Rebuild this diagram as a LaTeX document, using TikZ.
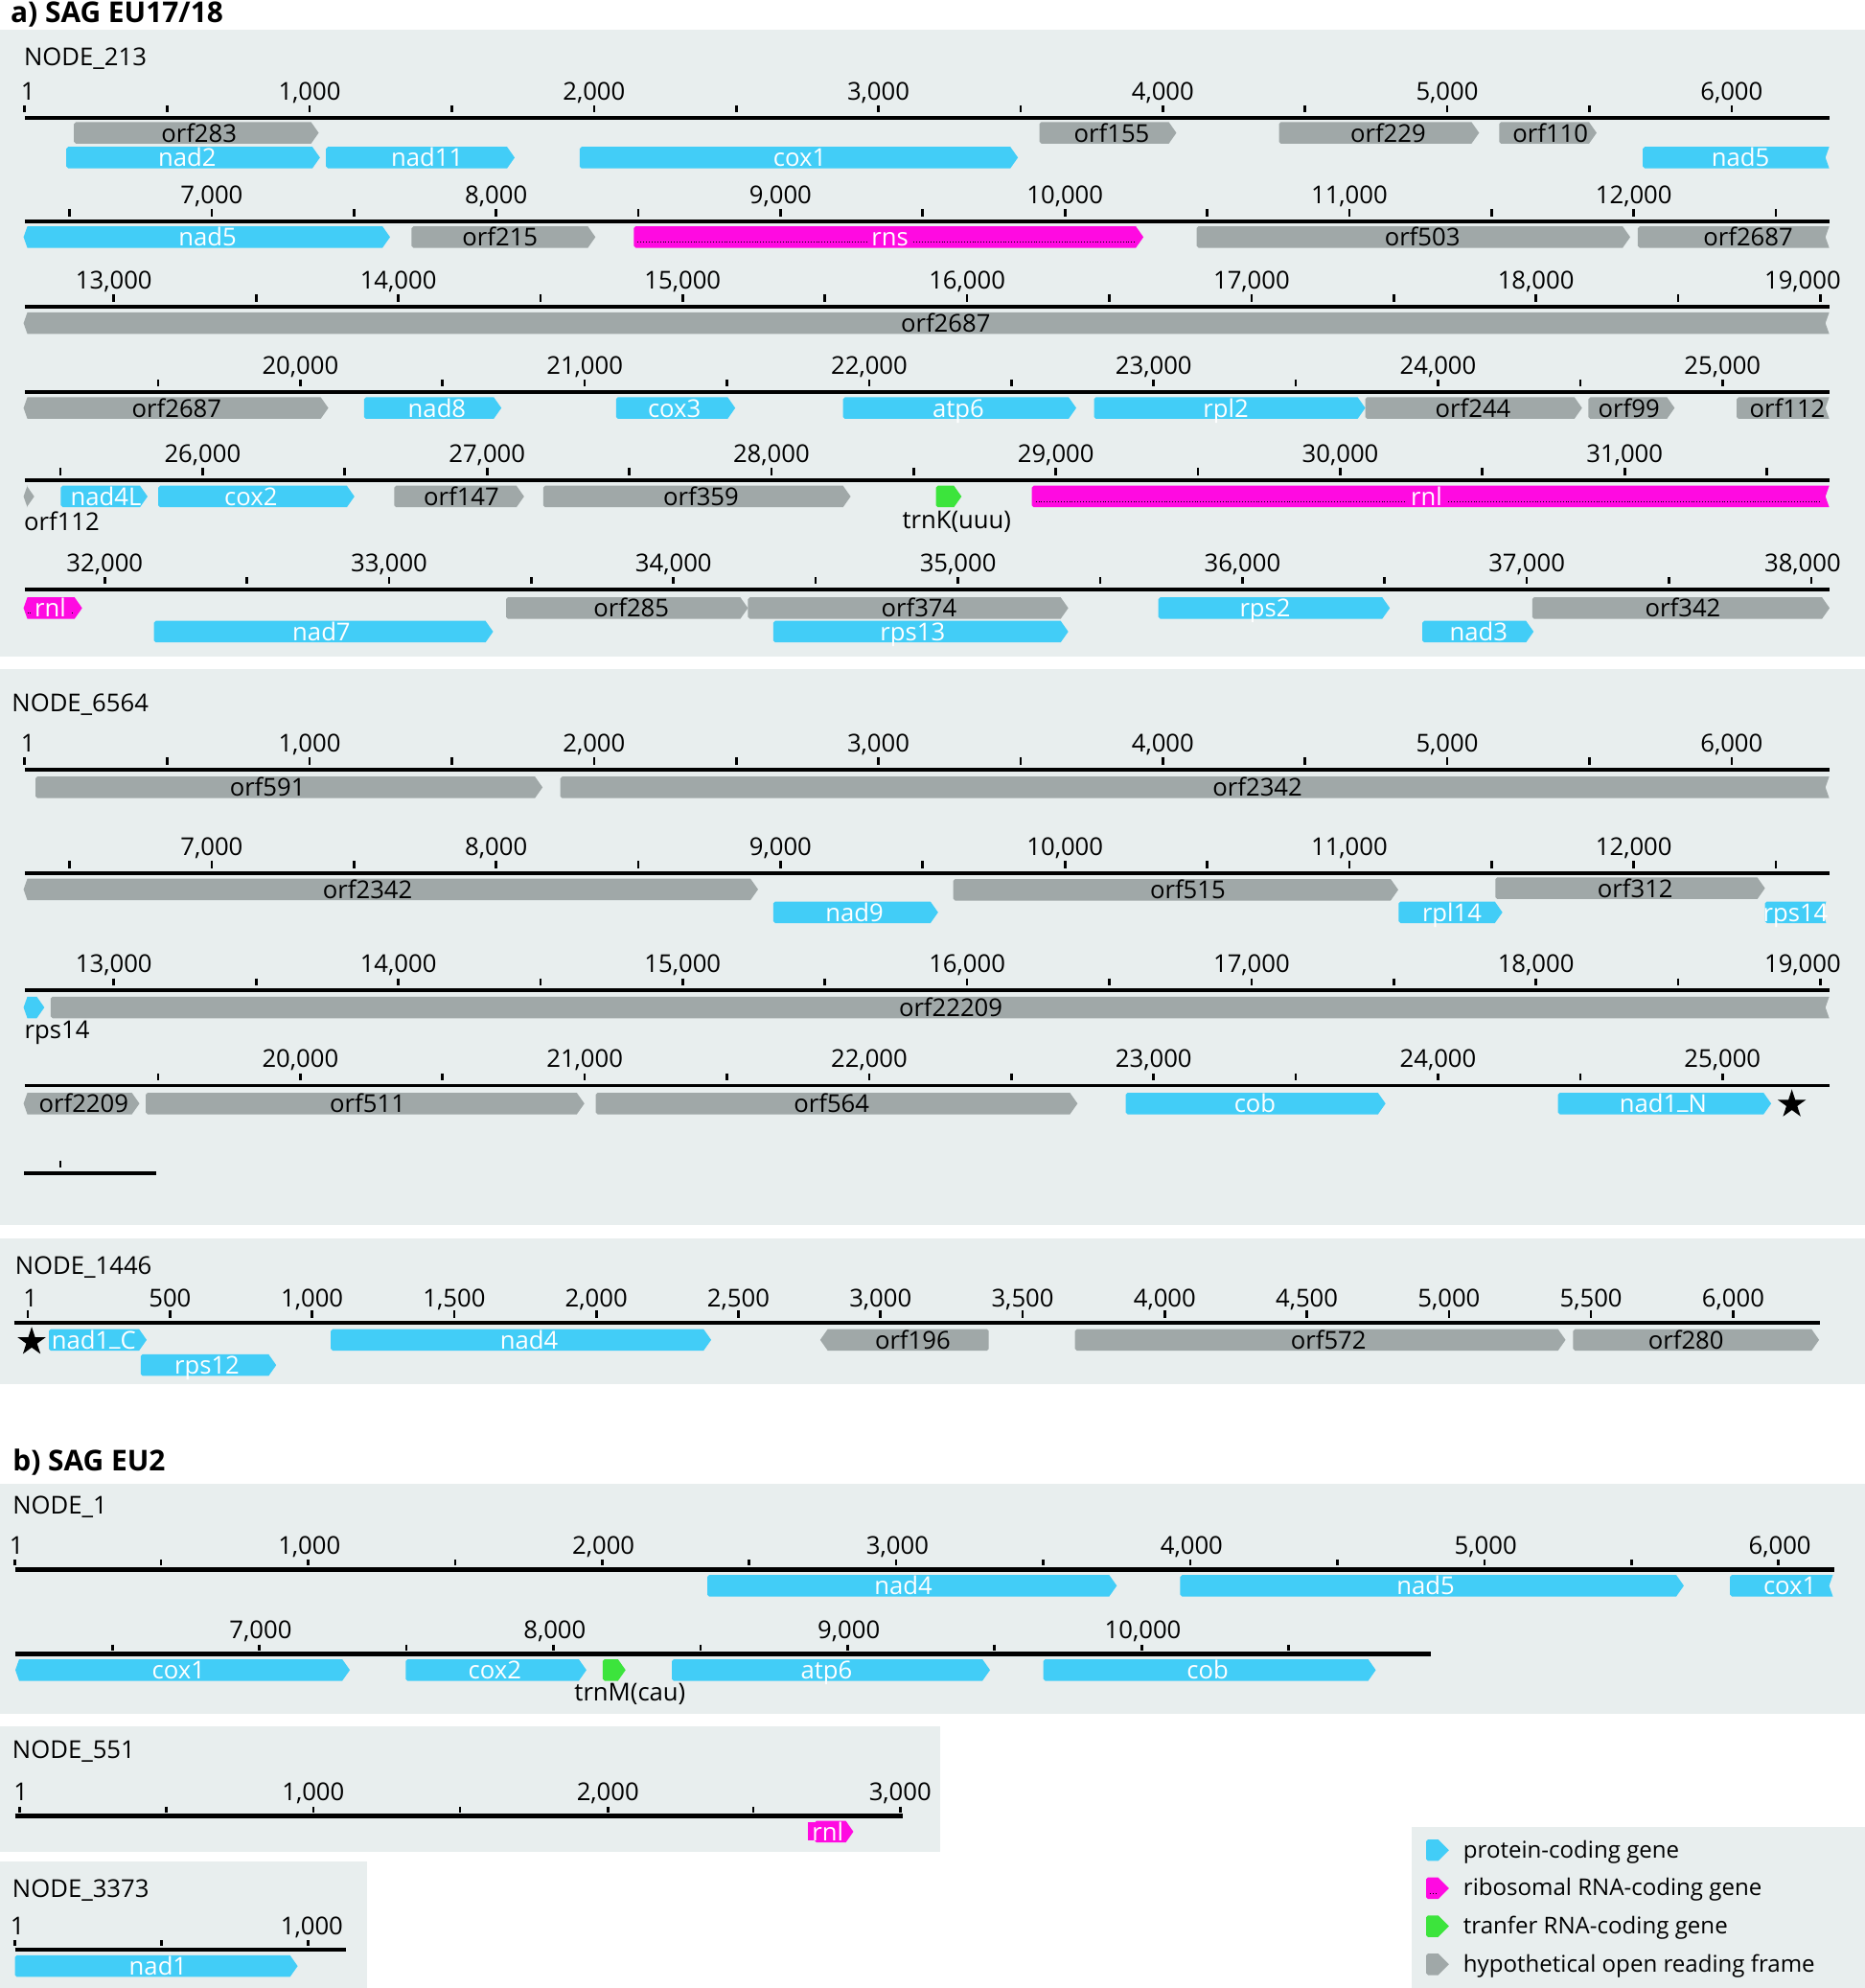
\documentclass[tikz,border=0pt]{standalone}
\usepackage{fontspec}
\setmainfont{Open Sans}
\usetikzlibrary{shapes.geometric}
\definecolor{pccol}{RGB}{66,205,247}
\definecolor{orfcol}{RGB}{160,168,168}
\definecolor{rrcol}{RGB}{255,10,225}
\definecolor{trcol}{RGB}{60,228,60}
\definecolor{panelcol}{RGB}{232,238,238}
\newcommand\genefont{\fontsize{9.7}{11}\selectfont}
\newcommand\legfont{\fontsize{9.1}{11}\selectfont}
\newcommand\ttlfont{\fontsize{11.3}{13}\selectfont\bfseries}
\newcommand\usc{\raisebox{0.17em}{\_}}
\tikzset{
  panel/.style={fill=panelcol},
  pc/.style={fill=pccol}, orf/.style={fill=orfcol}, rr/.style={fill=rrcol}, tr/.style={fill=trcol},
  pclbl/.style={text=white, font=\genefont, anchor=base, inner sep=0pt},
  orflbl/.style={text=black, font=\genefont, anchor=base, inner sep=0pt},
  rrlbl/.style={text=white, font=\genefont, anchor=base, fill=rrcol, inner xsep=1.5pt, inner ysep=0pt},
  trlbl/.style={text=black, font=\genefont, anchor=base, inner sep=0pt},
  blklbl/.style={text=black, font=\genefont, anchor=base, inner sep=0pt},
  axisln/.style={line width=1.5pt, black},
  tickln/.style={line width=1pt, black},
  numlbl/.style={font=\genefont, anchor=base, inner sep=0pt},
  ttl/.style={font=\ttlfont, anchor=base west, inner sep=0pt},
  nodelbl/.style={font=\genefont, anchor=base west, inner sep=0pt},
  leglbl/.style={font=\legfont, anchor=base west, inner sep=0pt},
  starmark/.style={star, star points=5, star point ratio=2.618, fill=black, minimum size=11.8pt, inner sep=0pt},
}
\newcount\gcnt
\def\tipd{6}
\def\rrname{rr}
\newcommand\gene[8]{%
  \global\advance\gcnt by 1\relax
  \pgfmathsetmacro\yt{#4-8.5}%
  \pgfmathsetmacro\yb{#4+8.5}%
  \if c#5\def\LU{-- (#2,{\yt+1.5}) -- ({#2+1.5},\yt)}\def\LL{-- ({#2+1.5},\yb) -- (#2,{\yb-1.5})}\fi
  \if t#5\def\LU{-- ({#2+\tipd},\yt)}\def\LL{-- ({#2+\tipd},\yb)}\fi
  \if n#5\def\LU{-- ({#2+3},\yt)}\def\LL{-- ({#2+3},\yb)}\fi
  \if t#6\def\RE{-- ({#3-\tipd},\yt) -- (#3,#4) -- ({#3-\tipd},\yb)}\fi
  \if c#6\def\RE{-- ({#3-1.5},\yt) -- (#3,{\yt+1.5}) -- (#3,{\yb-1.5}) -- ({#3-1.5},\yb)}\fi
  \if n#6\def\RE{-- (#3,\yt) -- ({#3-3},#4) -- (#3,\yb)}\fi
  \fill[#1] (#2,#4) \LU \RE \LL -- cycle;
  \def\tmpst{#1}%
  \ifx\tmpst\rrname
    \draw[black,line width=0.35pt,dash pattern=on 0.35pt off 0.75pt] ({#2+3},{#4+4}) -- ({#3-\tipd},{#4+4});%
  \fi
  \if\relax\detokenize{#8}\relax\else
    \node[#1lbl] (g\the\gcnt) at (#7,{#4+7.2}) {#8};%
  \fi
}
\def\lbloff{14}\def\ticktop{9.5}\def\tickbot{4}
% #1 prefix, #2 y, #3 x start, #4 x end, #5 tick list macro, #6 label list macro
\newcommand\scalerow[6]{%
  \draw[axisln] (#3,#2) -- (#4,#2);
  \foreach \xx in #5 {\draw[tickln] (\xx,{#2-\ticktop}) -- (\xx,{#2-\tickbot});}
  \foreach \xx/\lab [count=\ii] in #6 {\node[numlbl] (#1-\ii) at (\xx,{#2-\lbloff}) {\lab};}
}
\def\TA{19.5,132.0,244.2,356.4,468.6,580.8,692.9,805.1,917.3,1029.5,1141.6,1253.8,1366.0}
\def\LA{22/1,244.2/{1,000},468.6/{2,000},692.9/{3,000},917.3/{4,000},1141.6/{5,000},1366.0/{6,000}}
\def\TB{54.8,167.0,279.2,391.4,503.6,615.7,727.9,840.1,952.3,1064.4,1176.6,1288.8,1401.0}
\def\LB{167.0/{7,000},391.4/{8,000},615.7/{9,000},840.1/{10,000},1064.4/{11,000},1288.8/{12,000}}
\def\TC{89.8,202.0,314.2,426.4,538.5,650.7,762.9,875.1,987.3,1099.5,1211.6,1323.8,1436.0}
\def\LC{89.8/{13,000},314.2/{14,000},538.5/{15,000},762.9/{16,000},987.3/{17,000},1211.6/{18,000},1422/{19,000}}
\def\TD{124.8,236.9,349.1,461.3,573.5,685.7,797.9,910.1,1022.2,1134.4,1246.6,1358.8}
\def\LD{236.9/{20,000},461.3/{21,000},685.7/{22,000},910.1/{23,000},1134.4/{24,000},1358.8/{25,000}}
\def\TE{47.6,159.8,272.0,384.2,496.4,608.5,720.7,832.9,945.1,1057.3,1169.4,1281.6,1393.8}
\def\LE{159.8/{26,000},384.2/{27,000},608.5/{28,000},832.9/{29,000},1057.3/{30,000},1281.6/{31,000}}
\def\TF{82.6,194.8,307.0,419.2,531.3,643.5,755.7,867.9,980.1,1092.2,1204.4,1316.6,1428.8}
\def\LF{82.6/{32,000},307.0/{33,000},531.3/{34,000},755.7/{35,000},980.1/{36,000},1204.4/{37,000},1422/{38,000}}
\def\TG{22,134.1,246.2,358.3,470.4,582.5,694.6,806.7,918.8,1030.9,1143,1255.1,1367.2}
\def\LG{24/1,134.1/500,246.2/{1,000},358.3/{1,500},470.4/{2,000},582.5/{2,500},694.6/{3,000},806.7/{3,500},918.8/{4,000},1030.9/{4,500},1143/{5,000},1255.1/{5,500},1367.2/{6,000}}
\def\TH{11.5,127,243,359,475,591,707,823,939,1055,1171,1287,1403}
\def\LH{13/1,244/{1,000},476/{2,000},708/{3,000},940/{4,000},1172/{5,000},1404/{6,000}}
\def\TI{88.6,204.6,320.6,436.6,552.6,668.6,784.6,900.6,1016.6}
\def\LI{205.6/{7,000},437.6/{8,000},669.6/{9,000},901.6/{10,000}}
\def\TJ{15.6,131.3,247.1,362.9,479.5,594.3,710.1}
\def\LJ{16.5/1,247.1/{1,000},479.5/{2,000},710.1/{3,000}}
\def\TK{11.8,127.6,243.3}
\def\LK{13.7/1,246/{1,000}}
\begin{document}
\begin{tikzpicture}[x=0.5pt,y=-0.5pt]
\useasboundingbox (0,0) rectangle (1471,1568);
\fill[white] (0,0) rectangle (1471,1568);
% panels
\fill[panel] (0,23.4) rectangle (1471,518);
\fill[panel] (0,527.5) rectangle (1471,966);
\fill[panel] (0,976.4) rectangle (1471,1091.5);
\fill[panel] (0,1170) rectangle (1471,1351.5);
\fill[panel] (0,1361.5) rectangle (742,1460.5);
\fill[panel] (0,1468.5) rectangle (289.6,1568);
\fill[panel] (1113.5,1441) rectangle (1471,1568);
% titles
\node[ttl] (titA) at (8,17.6) {a) SAG EU17/18};
\node[ttl] (titB) at (9.7,1160.4) {b) SAG EU2};
% ================= NODE_213
\node[nodelbl] (n213) at (18.6,51.7) {NODE\_213};
\scalerow{a1}{92.7}{19.5}{1443}{\TA}{\LA}
\scalerow{a2}{174.6}{19.5}{1443}{\TB}{\LB}
\scalerow{a3}{241.9}{19.5}{1443}{\TC}{\LC}
\scalerow{a4}{309}{19.5}{1443}{\TD}{\LD}
\scalerow{a5}{378.7}{19.5}{1443}{\TE}{\LE}
\scalerow{a6}{464.7}{19.5}{1443}{\TF}{\LF}
% row 1
\gene{orf}{58.4}{251.4}{104.8}{c}{t}{157}{orf283}
\gene{pc}{52.3}{252.4}{124.3}{c}{t}{147.6}{nad2}
\gene{pc}{257.2}{406}{124.3}{c}{t}{337}{nad11}
\gene{pc}{457.3}{803}{124.3}{c}{t}{631}{cox1}
\gene{orf}{820}{928}{104.8}{c}{t}{877}{orf155}
\gene{orf}{1009}{1166.8}{104.8}{c}{t}{1095}{orf229}
\gene{orf}{1182.6}{1259.5}{104.8}{c}{t}{1223}{orf110}
\gene{pc}{1296}{1443}{124.3}{c}{n}{1373}{nad5}
% row 2
\gene{pc}{18.6}{307.7}{187}{n}{t}{163.8}{nad5}
\gene{orf}{324.7}{469.7}{187}{c}{t}{394.5}{orf215}
\gene{rr}{500}{902}{187}{c}{t}{702}{rns}
\gene{orf}{944}{1286}{187}{c}{t}{1122}{orf503}
\gene{orf}{1292}{1443}{187}{c}{n}{1379}{orf2687}
% row 3
\gene{orf}{18.6}{1443}{254.9}{n}{n}{746}{orf2687}
% row 4
\gene{orf}{18.6}{259}{321.8}{n}{t}{139.4}{orf2687}
\gene{pc}{287.2}{395.5}{321.8}{c}{t}{344.7}{nad8}
\gene{pc}{486}{580}{321.8}{c}{t}{532}{cox3}
\gene{pc}{665}{849}{321.8}{c}{t}{756}{atp6}
\gene{pc}{863}{1077}{321.8}{c}{t}{967}{rpl2}
\gene{orf}{1077}{1248}{321.8}{c}{t}{1162}{orf244}
\gene{orf}{1253}{1321}{321.8}{c}{t}{1285}{orf99}
\gene{orf}{1370}{1443}{321.8}{c}{n}{1410}{orf112}
% row 5
\gene{orf}{18.6}{27}{391.6}{n}{t}{0}{}
\node[blklbl, anchor=base west] (l112) at (18.6,418.3) {orf112};
\gene{pc}{48}{116.4}{391.6}{c}{t}{83.5}{nad4L}
\gene{pc}{124.9}{279.6}{391.6}{c}{t}{198}{cox2}
\gene{orf}{311}{413.4}{391.6}{c}{t}{364}{orf147}
\gene{orf}{428.6}{671}{391.6}{c}{t}{553}{orf359}
\gene{tr}{738.3}{758.5}{391.6}{c}{t}{0}{}
\node[blklbl] (ltrnK) at (754.7,417) {trnK(uuu)};
\gene{rr}{814}{1443}{391.6}{c}{n}{1125.4}{rnl}
% row 6
\gene{rr}{18.6}{64.8}{479.6}{n}{t}{39.7}{rnl}
\gene{pc}{121.5}{389}{498.2}{c}{t}{253.6}{nad7}
\gene{orf}{399.2}{590}{479.6}{c}{t}{498}{orf285}
\gene{orf}{590}{842.7}{479.6}{c}{t}{725}{orf374}
\gene{pc}{610}{842.7}{498.2}{c}{t}{720}{rps13}
\gene{pc}{913.8}{1096.4}{479.6}{c}{t}{998}{rps2}
\gene{pc}{1122}{1209.8}{498.2}{c}{t}{1166.4}{nad3}
\gene{orf}{1208.7}{1443.3}{479.6}{c}{t}{1327.6}{orf342}
% ================= NODE_6564
\node[nodelbl] (n6564) at (9,561.7) {NODE\_6564};
\scalerow{b1}{607}{19.5}{1443}{\TA}{\LA}
\scalerow{b2}{688.6}{19.5}{1443}{\TB}{\LB}
\scalerow{b3}{781.1}{19.5}{1443}{\TC}{\LC}
\scalerow{b4}{856.2}{19.5}{1443}{\TD}{\LD}
\draw[axisln] (19,925) -- (123,925);
\draw[tickln] (47.6,915.5) -- (47.6,921);
\gene{orf}{28}{428}{621}{c}{t}{211}{orf591}
\gene{orf}{442}{1443}{621}{c}{n}{992}{orf2342}
\gene{orf}{18.6}{598}{701.5}{n}{t}{290}{orf2342}
\gene{pc}{610}{740}{719.6}{c}{t}{674}{nad9}
\gene{orf}{752}{1103}{701.8}{c}{t}{937}{orf515}
\gene{pc}{1103.3}{1185.2}{719.6}{c}{t}{1145.4}{rpl14}
\gene{orf}{1179.6}{1392.3}{700.6}{c}{t}{1290}{orf312}
\gene{pc}{1392.3}{1440.6}{719.6}{c}{n}{1416.4}{rps14}
\gene{pc}{18.6}{35}{794.6}{n}{t}{0}{}
\node[blklbl, anchor=base west] (lrps14) at (19,819) {rps14};
\gene{orf}{40}{1443}{794.6}{c}{n}{750}{orf22209}
\gene{orf}{18.6}{110}{870.4}{n}{t}{66}{orf2209}
\gene{orf}{115}{461}{870.4}{c}{t}{290}{orf511}
\gene{orf}{470}{850}{870.4}{c}{t}{656}{orf564}
\gene{pc}{888}{1093}{870.4}{c}{t}{990}{cob}
\gene{pc}{1229}{1397.2}{870.4}{c}{t}{1312}{nad1\usc N}
\node[starmark] (star1) at (1413.5,871) {};
% ================= NODE_1446
\node[nodelbl] (n1446) at (11.6,1005.4) {NODE\_1446};
\def\lbloff{12.5}
\scalerow{c1}{1043.2}{11}{1436}{\TG}{\LG}
\gene{pc}{38.6}{115.7}{1056.8}{c}{t}{74}{nad1\usc C}
\gene{pc}{111}{217.9}{1076.7}{c}{t}{163.3}{rps12}
\gene{pc}{261}{561}{1056.8}{c}{t}{417.3}{nad4}
\gene{orf}{647}{780}{1056.8}{t}{c}{720}{orf196}
\gene{orf}{848}{1235}{1056.8}{c}{t}{1048}{orf572}
\gene{orf}{1241}{1435}{1056.8}{c}{t}{1330}{orf280}
\node[starmark] (star2) at (25,1058.3) {};
% ================= NODE_1
\tikzset{axisln/.style={line width=1.8pt, black}}
\def\lbloff{12}\def\ticktop{7.5}\def\tickbot{3}
\node[nodelbl] (n1) at (9.7,1194.4) {NODE\_1};
\scalerow{d1}{1237.7}{12}{1447}{\TH}{\LH}
\scalerow{d2}{1304.5}{12}{1129}{\TI}{\LI}
\gene{pc}{558}{881}{1250.7}{c}{t}{712.6}{nad4}
\gene{pc}{931}{1328.3}{1250.7}{c}{t}{1124.6}{nad5}
\gene{pc}{1364.7}{1445.9}{1250.7}{c}{n}{1412}{cox1}
\gene{pc}{12.1}{276}{1317.2}{n}{t}{140.9}{cox1}
\gene{pc}{320}{462.6}{1317.2}{c}{t}{390.4}{cox2}
\gene{tr}{475.5}{493.5}{1317.2}{c}{t}{0}{}
\node[blklbl] (ltrnM) at (497,1341.8) {trnM(cau)};
\gene{pc}{530}{781}{1317.2}{c}{t}{652}{atp6}
\gene{pc}{823}{1085.3}{1317.2}{c}{t}{952.6}{cob}
% ================= NODE_551
\node[nodelbl] (n551) at (9.4,1387.1) {NODE\_551};
\scalerow{e1}{1432.5}{11.8}{712.5}{\TJ}{\LJ}
\gene{rr}{642.6}{673.2}{1444.7}{c}{t}{653}{rnl}
% ================= NODE_3373
\node[nodelbl] (n3373) at (9.4,1496.7) {NODE\_3373};
\scalerow{f1}{1537.8}{11.8}{272.6}{\TK}{\LK}
\gene{pc}{11.8}{234.8}{1550.7}{c}{t}{124.7}{nad1}
% ================= legend
\def\tipd{8.5}
\gene{pc}{1125}{1143}{1459.3}{c}{t}{0}{}
\gene{rr}{1125}{1143}{1489.3}{c}{t}{0}{}
\gene{tr}{1125}{1143}{1519.3}{c}{t}{0}{}
\gene{orf}{1125}{1143}{1549.3}{c}{t}{0}{}
\node[leglbl] (leg1) at (1154,1465.2) {protein-coding gene};
\node[leglbl] (leg2) at (1154,1495.2) {ribosomal RNA-coding gene};
\node[leglbl] (leg3) at (1154,1525.2) {tranfer RNA-coding gene};
\node[leglbl] (leg4) at (1154,1555.2) {hypothetical open reading frame};
\end{tikzpicture}
\end{document}
